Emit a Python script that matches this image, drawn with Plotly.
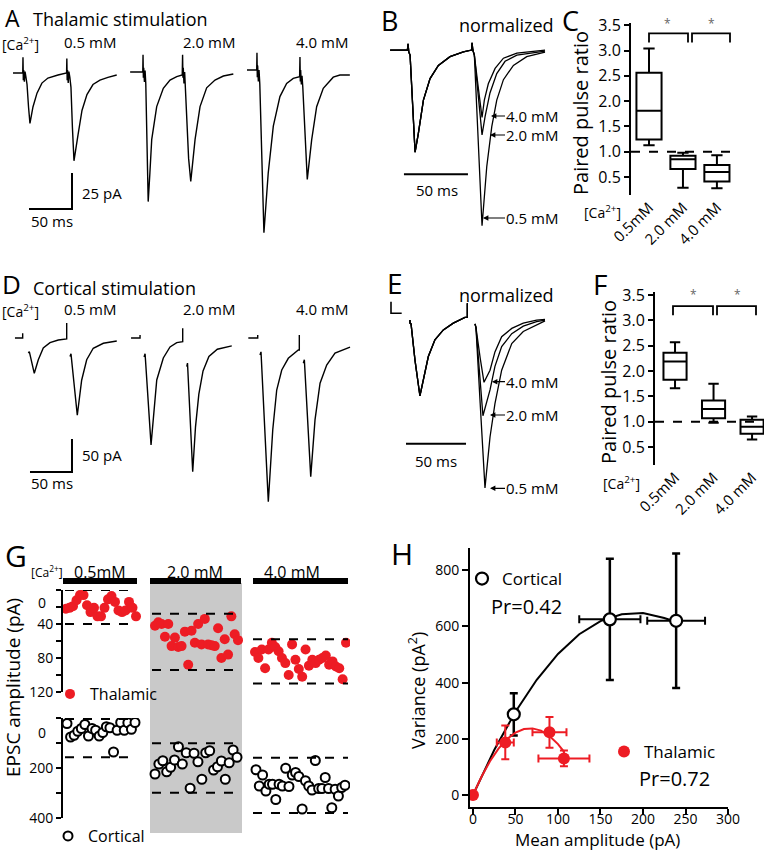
import plotly.graph_objects as go

W, H = 764, 853
FONT = "Open Sans"
RED = "#ed1c24"
BLK = "black"

# ------------------------------------------------------------------ data
CONC = ["0.5 mM", "2.0 mM", "4.0 mM"]
BOX_CATS = ["0.5mM", "2.0 mM", "4.0 mM"]

# A: thalamic stimulation sweeps (ms from 1st stimulus, pA)
A_T_05 = [-11.6, -0.3, 0, 0.4, 0.8, 1.6, 2.4, 3.5, 4.7, 6.5, 8.1, 11.6, 16.3, 22, 29, 40.7,
          50.7, 51, 51.4, 51.8, 52.6, 53.4, 54.5, 55.8, 57.5, 59.3, 64, 68.6, 74.4, 81.4, 89.5, 98.8, 109]
A_I_05 = [0, 0, 11, -5, 2, -6, 1, -3, -8, -24, -35, -23.6, -14, -7, -3.5, -1.4,
          0, 10, -5, 2, -7, 1, -3, -10, -38, -61, -43, -26, -15, -8, -5, -3, -1.4]
A_T_20 = [-15, -0.3, 0, 0.4, 0.8, 1.6, 2.4, 3.2, 4.5, 6, 8, 10.1, 15.9, 23.6, 31.4, 39.2,
          45.6, 46, 46.4, 46.8, 47.6, 48.4, 49.2, 51, 53, 55.5, 58, 60.5, 66.3, 74, 83.7, 93.4, 105]
A_I_20 = [0, 0, 12, -4, 3, -7, 1, -8, -50, -90, -70, -47, -24, -11.3, -5.6, -3.2,
          -2, 12, -4, 3, -8, 0, -10, -35, -60, -76, -62, -47, -24, -11, -5.6, -2.8, -1.4]
A_T_40 = [-11.6, -0.3, 0, 0.4, 0.8, 1.6, 2.4, 3.3, 5.5, 8.1, 13.1, 19, 26.7, 34.5, 42.2,
          49.6, 50, 50.4, 50.8, 51.6, 52.4, 53.3, 55.5, 58.5, 63.6, 69.4, 77.1, 88.7, 96.5, 108]
A_I_40 = [0, 0, 12, -5, 3, -8, 0, -10, -60, -113, -71.5, -39, -18.5, -9.3, -5.8,
          -4.6, 9, -8, 0, -10, -4, -12, -40, -76, -48.6, -25.5, -12.7, -5, -3.5, -3.5]
A_BASE = [0, 0.7, 2.1]
A_SCALE_MS, A_SCALE_PA = 50, 25

# B: thalamic, normalized to 1st EPSC
B_T1 = [-14, -0.5, 0, 0.6, 1.6, 3.5, 5.5, 8, 12, 17.2, 23.7, 32.8, 43.2, 49.6]
B_N1 = [0, 0, 0.06, -0.02, -0.05, -0.55, -1.0, -0.82, -0.49, -0.28, -0.15, -0.065, -0.017, 0]
B_T2_05 = [50, 50.6, 51.8, 54.5, 57.8, 61.5, 65.4, 69.3, 74.5, 82.3, 92.7, 107]
B_N2_05 = [0.07, 0, -0.05, -0.8, -1.72, -1.14, -0.75, -0.49, -0.29, -0.15, -0.065, -0.02]
B_T2_20 = [50, 50.6, 51.8, 54.5, 57.8, 60.2, 64, 69.3, 75.8, 85, 107]
B_N2_20 = [0.07, 0, -0.05, -0.4, -0.83, -0.65, -0.42, -0.23, -0.11, -0.05, -0.01]
B_T2_40 = [50, 50.6, 51.8, 54.5, 57.8, 59.6, 62.7, 68, 74.5, 85, 107]
B_N2_40 = [0.07, 0, -0.05, -0.33, -0.66, -0.49, -0.33, -0.18, -0.08, -0.03, 0]
B_SCALE_MS = 50

# C: paired pulse ratio, thalamic
C_LOW = [1.13, 0.29, 0.28]
C_Q1 = [1.24, 0.66, 0.41]
C_MED = [1.81, 0.85, 0.60]
C_Q3 = [2.56, 0.92, 0.74]
C_HIGH = [3.04, 0.98, 0.93]

# D: cortical stimulation sweeps (ms, pA); None = blanked artefact
D_T_05 = [-9.2, 0, 0, None, 6.7, 7.9, 13.8, 18.6, 24.5, 32.5, 42.4, 46.4, 52.4, 52.4, None,
          56.3, 57.5, 65, 70.2, 76.2, 84, 96, 112]
D_I_05 = [0, 0, 7, None, -22.7, -20.7, -53.5, -33, -15, -7, -3, -2, -1.5, 22.7, None,
          -28, -24, -117, -64, -33, -15.6, -8, -4.5]
D_T_20 = [-10.7, 0, 0, None, 4.8, 6, 13.1, 19.9, 27.7, 35.7, 43.7, 49.6, 50.8, 50.8, None,
          55.6, 56.5, 62.7, 66, 70, 75, 82, 92, 109.2]
D_I_20 = [0, 0, 4.5, None, -28.8, -24, -162, -63.6, -30.3, -13.6, -7.1, -5.6, -5.6, 14.7, None,
          -43.5, -38, -202.6, -135, -85, -50, -28, -17, -12]
D_T_40 = [-11.2, 0, 0, None, 2.7, 3.9, 12.6, 17.9, 22.6, 28.6, 36.4, 42.4, 48.3, 49.5, 49.5, None,
          54.3, 55.5, 63.1, 68.2, 74.2, 82.1, 92, 109.9]
D_I_40 = [0, 0, 4.5, None, -25.8, -21, -248, -139, -78.8, -48.5, -30.8, -24.2, -18.2, -18.2, 4.5, None,
          -38.3, -33, -210, -124, -68.6, -41, -23, -14]
D_SCALE_MS, D_SCALE_PA = 50, 50

# E: cortical, normalized
E_T0 = [-13.3, -13.3, -4.4]
E_N0 = [0.24, 0.09, 0.09]
E_T1 = [2.5, 2.5, 3.4, 6.7, 10.8, 13.6, 17.8, 23.3, 30.3, 38.6, 48.3, 50.3, 50.3]
E_N1 = [0.0, -0.04, -0.05, -0.53, -1.0, -0.79, -0.48, -0.26, -0.13, -0.04, 0.035, 0.035, 0.22]
E_T2_05 = [56.7, 57.5, 61, 65, 69.2, 73.3, 78.9, 87.3, 96.9, 108, 115]
E_N2_05 = [-0.05, -0.1, -1.1, -2.21, -1.54, -1.1, -0.66, -0.31, -0.15, -0.07, -0.01]
E_T2_20 = [56.7, 57.5, 60.5, 63.3, 69.2, 73.3, 78.9, 87.3, 96.9, 108, 115]
E_N2_20 = [-0.05, -0.1, -0.7, -1.26, -0.92, -0.61, -0.35, -0.18, -0.08, -0.02, 0]
E_T2_40 = [56.7, 57.5, 61, 64.2, 69.2, 73.3, 78.9, 87.3, 96.9, 108, 115]
E_N2_40 = [-0.05, -0.1, -0.5, -0.82, -0.66, -0.42, -0.22, -0.11, -0.04, 0, 0.01]
E_SCALE_MS = 50

# F: paired pulse ratio, cortical
F_LOW = [1.66, 0.98, 0.65]
F_Q1 = [1.83, 1.07, 0.76]
F_MED = [2.19, 1.25, 0.90]
F_Q3 = [2.36, 1.42, 1.04]
F_HIGH = [2.57, 1.75, 1.10]

# G: EPSC amplitude per sweep
G_TH_05 = [22, 21, 19, 12, 6, 6, 18, 26, 21, 31, 31, 21, 11, 7, 14, 24, 26, 24, 14, 21, 31]
G_TH_20 = [42, 38, 40, 55, 40, 66, 56, 67, 66, 49, 88, 48, 62, 40, 64, 34, 64, 65, 66, 45,
           80, 58, 76, 31, 52, 59]
G_TH_40 = [73, 80, 70, 92, 70, 62, 67, 72, 80, 86, 100, 64, 82, 93, 102, 70, 89, 82, 86, 82,
           80, 77, 88, 84, 90, 92, 105, 62]
G_CO_05 = [22, 76, 69, 53, 42, 26, 72, 42, 49, 72, 58, 35, 39, 136, 49, 18, 49, 19, 45, 18]
G_CO_20 = [224, 184, 171, 215, 197, 168, 115, 184, 139, 281, 141, 175, 245, 139, 131, 208,
           195, 172, 245, 179, 128, 157]
G_CO_40 = [207, 272, 228, 292, 265, 265, 326, 265, 272, 201, 274, 228, 218, 234, 364, 251,
           272, 288, 170, 282, 282, 238, 282, 359, 285, 312, 278, 269]
G_TH_LIM = [[0, 40], [28, 94], [58, 110]]
G_CO_LIM = [[4, 157], [101, 299], [159, 380]]

# H: variance-mean
H_CO_X = [48, 161, 239]
H_CO_Y = [287, 625, 620]
H_CO_XE = [2, 36, 34]
H_CO_YE = [75, 216, 239]
H_TH_X = [0, 38, 90, 107]
H_TH_Y = [0, 187, 223, 130]
H_TH_XE = [0, 10, 20, 30]
H_TH_YE = [0, 60, 55, 28]
H_CO_FIT_X = [0, 25, 50, 75, 100, 125, 150, 175, 200, 225, 240]
H_CO_FIT_Y = [0, 160, 296, 410, 502, 572, 619, 643, 648, 630, 615]
H_TH_FIT_X = [0, 10, 20, 30, 40, 50, 60, 70, 80, 90, 100, 107]
H_TH_FIT_Y = [0, 65, 120, 165, 199, 222, 235, 237, 229, 210, 181, 154]


# ------------------------------------------------------------------ helpers
def fx(x):
    return x / W


def fy(y):
    return 1 - y / H


def dx(a, b):
    return [fx(a), fx(b)]


def dy(top, bot):
    return [fy(bot), fy(top)]


fig = go.Figure()
ann = []
shapes = []


def label(x, y, s, size=15, xa="left", ya="middle", color=BLK, angle=0):
    ann.append(dict(x=fx(x), y=fy(y), xref="paper", yref="paper", text=s, showarrow=False,
                    xanchor=xa, yanchor=ya, textangle=angle,
                    font=dict(family=FONT, size=size, color=color)))


def arrow_label(xh, y, xt, s, size=15):
    ann.append(dict(x=fx(xh), y=fy(y), xref="paper", yref="paper", ax=xt - xh, ay=0,
                    text=s, showarrow=True, arrowhead=2, arrowsize=0.9, arrowwidth=1.2,
                    arrowcolor=BLK, xanchor="left", yanchor="middle", borderpad=0,
                    font=dict(family=FONT, size=size, color=BLK)))


def shift(T, off):
    return [None if t is None else t + off for t in T]


def lift(I, b):
    return [None if v is None else v + b for v in I]


def line_trace(x, y, xa, ya, width=1.4, color=BLK):
    fig.add_trace(go.Scatter(x=x, y=y, mode="lines", line=dict(color=color, width=width),
                             xaxis=xa, yaxis=ya, showlegend=False, hoverinfo="skip"))


# ------------------------------------------------------------------ A
A_OFF = [15.1, 154.7, 287.2]
for T, I, off, b in zip([A_T_05, A_T_20, A_T_40], [A_I_05, A_I_20, A_I_40], A_OFF, A_BASE):
    line_trace(shift(T, off), lift(I, b), "x", "y")
ax0, ay0 = 72.1, -94.4
line_trace([ax0 - A_SCALE_MS, ax0, ax0], [ay0, ay0, ay0 + A_SCALE_PA], "x", "y", width=2)

# ------------------------------------------------------------------ B
B_OFF = 18
for T2, N2 in [(B_T2_40, B_N2_40), (B_T2_20, B_N2_20), (B_T2_05, B_N2_05)]:
    line_trace(shift(B_T1 + T2, B_OFF), B_N1 + N2, "x2", "y2", width=1.3)
line_trace([14.8, 14.8 + B_SCALE_MS], [-1.216, -1.216], "x2", "y2", width=2)

# ------------------------------------------------------------------ D
D_OFF = [15.1, 154.8, 294.9]
for T, I, off in zip([D_T_05, D_T_20, D_T_40], [D_I_05, D_I_20, D_I_40], D_OFF):
    line_trace(shift(T, off), I, "x4", "y4")
dx0, dy0 = 73.8, -203
line_trace([dx0 - D_SCALE_MS, dx0, dx0], [dy0, dy0, dy0 + D_SCALE_PA], "x4", "y4", width=2)

# ------------------------------------------------------------------ E
E_OFF = 18.3
line_trace(shift(E_T0, E_OFF), E_N0, "x5", "y5", width=1.6)
for T2, N2 in [(E_T2_40, E_N2_40), (E_T2_20, E_N2_20), (E_T2_05, E_N2_05)]:
    line_trace(shift(E_T1 + [None] + T2, E_OFF), E_N1 + [None] + N2, "x5", "y5", width=1.3)
line_trace([17.5, 17.5 + E_SCALE_MS], [-1.63, -1.63], "x5", "y5", width=2)

# ------------------------------------------------------------------ C / F boxes
for (lo, q1, md, q3, hi, xa, ya, wd) in [
        (C_LOW, C_Q1, C_MED, C_Q3, C_HIGH, "x3", "y3", 0.74),
        (F_LOW, F_Q1, F_MED, F_Q3, F_HIGH, "x6", "y6", 0.6)]:
    fig.add_trace(go.Box(x=BOX_CATS, q1=q1, median=md, q3=q3, lowerfence=lo, upperfence=hi,
                         boxpoints=False, line=dict(color=BLK, width=2), fillcolor="white",
                         width=wd, whiskerwidth=0.45, xaxis=xa, yaxis=ya, showlegend=False,
                         hoverinfo="skip"))

# ------------------------------------------------------------------ G
G_STEP_PX = 3.5
G_X0 = 63


def g_pos(vals, a, b):
    n = len(vals)
    ua, ub = (a - G_X0) / G_STEP_PX, (b - G_X0) / G_STEP_PX
    return [ua + (ub - ua) * i / (n - 1) for i in range(n)]


th_x = g_pos(G_TH_05, 66, 136) + g_pos(G_TH_20, 155, 238) + g_pos(G_TH_40, 255, 346)
th_y = G_TH_05 + G_TH_20 + G_TH_40
co_x = g_pos(G_CO_05, 67, 135) + g_pos(G_CO_20, 155, 237) + g_pos(G_CO_40, 256, 345)
co_y = G_CO_05 + G_CO_20 + G_CO_40
fig.add_trace(go.Scatter(x=th_x, y=th_y, mode="markers", name="Thalamic", legend="legend3",
                         marker=dict(color=RED, size=10, line=dict(width=0)),
                         xaxis="x7", yaxis="y7", hoverinfo="skip"))
fig.add_trace(go.Scatter(x=co_x, y=co_y, mode="markers", name="Cortical", legend="legend4",
                         marker=dict(color="white", size=9, line=dict(color=BLK, width=2)),
                         xaxis="x7", yaxis="y9", hoverinfo="skip"))

# ------------------------------------------------------------------ H
line_trace(H_CO_FIT_X, H_CO_FIT_Y, "x8", "y8", width=2)
fig.add_trace(go.Scatter(x=H_CO_X, y=H_CO_Y, mode="markers", name="Cortical", legend="legend",
                         marker=dict(color="white", size=12, line=dict(color=BLK, width=2.2)),
                         error_x=dict(type="data", array=H_CO_XE, color=BLK, thickness=2, width=4),
                         error_y=dict(type="data", array=H_CO_YE, color=BLK, thickness=2.5, width=4),
                         xaxis="x8", yaxis="y8", hoverinfo="skip"))
line_trace(H_TH_FIT_X, H_TH_FIT_Y, "x8", "y8", width=2, color=RED)
fig.add_trace(go.Scatter(x=H_TH_X, y=H_TH_Y, mode="markers", name="Thalamic", legend="legend2",
                         marker=dict(color=RED, size=12),
                         error_x=dict(type="data", array=H_TH_XE, color=RED, thickness=2, width=4),
                         error_y=dict(type="data", array=H_TH_YE, color=RED, thickness=2, width=4),
                         xaxis="x8", yaxis="y8", hoverinfo="skip"))


# ------------------------------------------------------------------ shapes
def pshape(kind, x0, y0, x1, y1, **kw):
    d = dict(type=kind, xref="paper", yref="paper", x0=fx(x0), x1=fx(x1), y0=fy(y0), y1=fy(y1))
    d.update(kw)
    shapes.append(d)


# G grey band and black bars
pshape("rect", 150, 583, 242, 833, fillcolor="#c9c9c9", line=dict(width=0), layer="below")
for a, b in [(63, 137), (150, 241), (253, 348)]:
    pshape("rect", a, 578, b, 584, fillcolor=BLK, line=dict(width=0))
# G dashed ranges
G_SPANS = [(65, 137), (152, 240), (253, 348)]
for (a, b), lim in zip(G_SPANS, G_TH_LIM):
    for v in lim:
        shapes.append(dict(type="line", xref="paper", yref="y7", x0=fx(a), x1=fx(b), y0=v, y1=v,
                           line=dict(color=BLK, width=2, dash="dash")))
for (a, b), lim in zip(G_SPANS, G_CO_LIM):
    for v in lim:
        shapes.append(dict(type="line", xref="paper", yref="y9", x0=fx(a), x1=fx(b), y0=v, y1=v,
                           line=dict(color=BLK, width=2, dash="dash")))

# C / F reference line at PPR = 1 and significance brackets
for ya, a, b in [("y3", 631, 738), ("y6", 655, 762)]:
    shapes.append(dict(type="line", xref="paper", yref=ya, x0=fx(a), x1=fx(b), y0=1, y1=1,
                       line=dict(color=BLK, width=2, dash="dash")))


def bracket(ya, a, b, ytop, yend):
    shapes.append(dict(type="path", xref="paper", yref=ya,
                       path=f"M {fx(a)},{yend} L {fx(a)},{ytop} L {fx(b)},{ytop} L {fx(b)},{yend}",
                       line=dict(color=BLK, width=1.8)))


bracket("y3", 649, 688, 3.34, 3.16)
bracket("y3", 692, 730, 3.34, 3.16)
bracket("y6", 673, 713, 3.28, 3.10)
bracket("y6", 717, 756, 3.28, 3.10)

# ------------------------------------------------------------------ text
SUP = "[Ca<sup>2+</sup>]"
# A
label(3, 0, "A", 23, ya="top")
label(31, 19, "Thalamic stimulation", 18)
label(0, 44, SUP, 14)
for c, s in zip([90, 209, 322], CONC):
    label(c, 42, s, 15, xa="center")
label(80, 193, "25 pA", 15)
label(29, 221, "50 ms", 15)
# B
label(379, 0, "B", 27, ya="top")
label(506, 25, "normalized", 18, xa="center")
for y, s, xh in [(116, "4.0 mM", 491), (135, "2.0 mM", 490), (218, "0.5 mM", 483)]:
    arrow_label(xh, y, 505, s)
label(437, 190, "50 ms", 15, xa="center")
# C
label(560, 0, "C", 27, ya="top")
label(581, 113, "Paired pulse ratio", 20, xa="center", angle=-90)
label(582, 212, SUP, 14)
for x, y in [(667, 24), (711, 24)]:
    label(x, y, "*", 12, xa="center", color="#666")
# D
label(0, 264, "D", 26, ya="top")
label(31, 288, "Cortical stimulation", 18)
label(0, 311, SUP, 14)
for c, s in zip([90, 209, 322], CONC):
    label(c, 309, s, 15, xa="center")
label(80, 455, "50 pA", 15)
label(29, 483, "50 ms", 15)
# E
label(385, 283, "E", 28)
label(506, 295, "normalized", 18, xa="center")
for y, s, xh in [(381.7, "4.0 mM", 492), (415, "2.0 mM", 490), (488.3, "0.5 mM", 490)]:
    arrow_label(xh, y, 505, s)
label(436, 461, "50 ms", 15, xa="center")
# F
label(591, 284, "F", 28)
label(608, 382, "Paired pulse ratio", 20, xa="center", angle=-90)
label(601, 483, SUP, 14)
for x, y in [(693, 294), (737, 294)]:
    label(x, y, "*", 12, xa="center", color="#666")
# G
label(3, 555, "G", 30)
label(29, 572, SUP, 12)
label(100, 572, "0.5mM", 16, xa="center")
label(195, 572, "2.0 mM", 16, xa="center")
label(292, 572, "4.0 mM", 16, xa="center")
label(13, 688, "EPSC amplitude (pA)", 19, xa="center", angle=-90)
label(48, 602, "0", 14, xa="right")
label(48, 732, "0", 14, xa="right")
# H
label(389, 553, "H", 30)
label(489, 606, "Pr=0.42", 20)
label(637, 778, "Pr=0.72", 20)
label(597, 853, "Mean amplitude (pA)", 17, xa="center", ya="bottom")
label(417, 690, "Variance (pA<sup>2</sup>)", 18, xa="center", angle=-90)

# ------------------------------------------------------------------ layout
hidden = dict(visible=False)
tick_common = dict(showline=True, linecolor=BLK, linewidth=2, ticks="outside", ticklen=5,
                   tickwidth=2, tickcolor=BLK, showgrid=False, zeroline=False,
                   tickfont=dict(family=FONT, size=16, color=BLK))
ppr_vals = [0.5, 1.0, 1.5, 2.0, 2.5, 3.0, 3.5]
ppr_text = [f"{v:.1f}" for v in ppr_vals]
g_tick = {**tick_common, "tickfont": dict(family=FONT, size=14, color=BLK)}
h_tick = {**tick_common, "ticklen": 6, "tickfont": dict(family=FONT, size=14, color=BLK)}
minor_style = dict(ticks="outside", ticklen=5, tickwidth=2, tickcolor=BLK, showgrid=False)


def legend_at(x, y, size):
    return dict(x=fx(x), y=fy(y), xref="paper", yref="paper", xanchor="left", yanchor="middle",
                bgcolor="rgba(0,0,0,0)", borderwidth=0, itemwidth=30,
                font=dict(family=FONT, size=size, color=BLK), itemclick=False)


fig.update_layout(
    width=W, height=H, margin=dict(l=0, r=0, t=0, b=0, pad=0, autoexpand=False),
    paper_bgcolor="white", plot_bgcolor="rgba(0,0,0,0)",
    font=dict(family=FONT, color=BLK),
    xaxis=dict(domain=dx(10, 355), range=[0, 401.2], anchor="y", **hidden),
    yaxis=dict(domain=dy(45, 240), range=[-115.97, 19.44], anchor="x", **hidden),
    xaxis2=dict(domain=dx(385, 560), range=[0, 136.7], anchor="y2", **hidden),
    yaxis2=dict(domain=dy(30, 235), range=[-1.81, 0.196], anchor="x2", **hidden),
    xaxis3=dict(domain=dx(631, 740), range=[-0.53, 2.68], anchor="y3", type="category",
                showline=False, ticks="", showgrid=False, tickangle=-45,
                tickfont=dict(family=FONT, size=15, color=BLK)),
    yaxis3=dict(domain=dy(22.7, 195), range=[0.145, 3.55], anchor="x3", tickvals=ppr_vals,
                ticktext=ppr_text, **tick_common),
    xaxis4=dict(domain=dx(10, 355), range=[0, 410.7], anchor="y4", **hidden),
    yaxis4=dict(domain=dy(315, 512), range=[-263.6, 34.8], anchor="x4", **hidden),
    xaxis5=dict(domain=dx(385, 560), range=[0, 145.8], anchor="y5", **hidden),
    yaxis5=dict(domain=dy(295, 500), range=[-2.37, 0.33], anchor="x5", **hidden),
    xaxis6=dict(domain=dx(655, 764), range=[-0.52, 2.31], anchor="y6", type="category",
                showline=False, ticks="", showgrid=False, tickangle=-45,
                tickfont=dict(family=FONT, size=15, color=BLK)),
    yaxis6=dict(domain=dy(292, 465), range=[0.145, 3.56], anchor="x6", tickvals=ppr_vals,
                ticktext=ppr_text, **tick_common),
    xaxis7=dict(domain=dx(63, 350), range=[0, 82], anchor="y7", **hidden),
    yaxis7=dict(domain=dy(590, 692), range=[120, 0], anchor="x7", tickvals=[40, 80, 120],
                minor=dict(tickvals=[0, 20, 60, 100], **minor_style), **g_tick),
    yaxis9=dict(domain=dy(718, 818), range=[400, 0], anchor="x7", tickvals=[200, 400],
                minor=dict(tickvals=[0, 100, 300], **minor_style), **g_tick),
    xaxis8=dict(domain=dx(470, 728), range=[-3.5, 300], anchor="y8",
                tickvals=[0, 50, 100, 150, 200, 250, 300], ticklabelstandoff=-8, **h_tick),
    yaxis8=dict(domain=dy(548, 807), range=[-42.7, 879], anchor="x8",
                tickvals=[0, 200, 400, 600, 800], **h_tick),
    legend=legend_at(462, 579, 17),
    legend2=legend_at(604, 752, 17),
    legend3=legend_at(50, 694, 16),
    legend4=legend_at(48, 836, 16),
    annotations=ann,
    shapes=shapes,
)

fig.write_html("out.html", config={"displayModeBar": False},
               post_script="document.body.style.margin='0px';")
